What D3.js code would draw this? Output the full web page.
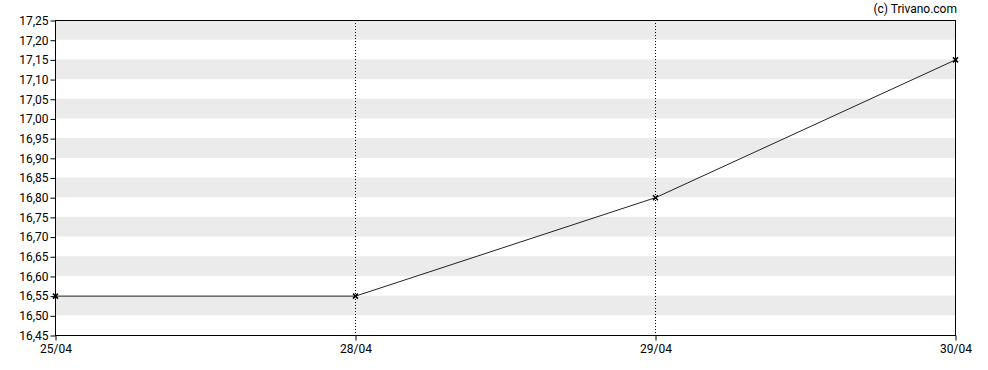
<!DOCTYPE html>
<html>
<head>
<meta charset="utf-8">
<script src="https://cdn.jsdelivr.net/npm/d3@7"></script>
<style>
  body { margin: 0; background: #fff; }
  text { font-family: Roboto, "Liberation Sans", sans-serif; font-size: 12px; fill: #000; }
</style>
</head>
<body>
<svg id="chart" width="988" height="370"></svg>
<script>
var dates = ["25/04", "28/04", "29/04", "30/04"];
var prices = [16.55, 16.55, 16.80, 17.15];
var yTicks = [16.45, 16.50, 16.55, 16.60, 16.65, 16.70, 16.75, 16.80, 16.85, 16.90,
              16.95, 17.00, 17.05, 17.10, 17.15, 17.20, 17.25];

var MARGINS = { top: 20, right: 33, bottom: 35, left: 55 };
var width = 988, height = 370;
var plotWidth = width - MARGINS.left - MARGINS.right;
var plotHeight = height - MARGINS.top - MARGINS.bottom;

var svg = d3.select('#chart');
var g = svg.append('g').attr('transform', 'translate(' + MARGINS.left + ',' + MARGINS.top + ')');

var x = d3.scalePoint().domain(dates).range([0, plotWidth]);
var y = d3.scaleLinear().domain([16.45, 17.25]).range([plotHeight, 0]);

var fmt = function (d) { return d.toFixed(2).replace('.', ','); };

// alternating bands
for (var i = 0; i < yTicks.length - 1; i++) {
  if ((yTicks.length - 2 - i) % 2 === 0) {
    g.append('rect')
      .attr('x', 0)
      .attr('y', y(yTicks[i + 1]))
      .attr('width', plotWidth)
      .attr('height', y(yTicks[i]) - y(yTicks[i + 1]))
      .attr('fill', '#ebebeb');
  }
}

// dotted verticals on inner dates
dates.slice(1, -1).forEach(function (d) {
  g.append('line')
    .attr('x1', Math.round(x(d)) + 0.5).attr('x2', Math.round(x(d)) + 0.5)
    .attr('y1', 0).attr('y2', plotHeight)
    .attr('stroke', '#000')
    .attr('stroke-width', 1)
    .attr('stroke-dasharray', '1,2');
});

// frame
g.append('rect')
  .attr('x', 0.5).attr('y', 0.5)
  .attr('width', plotWidth).attr('height', plotHeight)
  .attr('fill', 'none')
  .attr('stroke', '#000');

// y axis
var yAxis = g.append('g')
  .attr('transform', 'translate(0.5,0.5)')
  .call(d3.axisLeft(y).tickValues(yTicks).tickFormat(fmt).tickSize(5).tickPadding(2));
yAxis.select('.domain').remove();
yAxis.selectAll('text').style('font-size', '12px').attr('fill', '#000');

// x axis
var xAxis = g.append('g')
  .attr('transform', 'translate(0.5,' + (plotHeight + 0.5) + ')')
  .call(d3.axisBottom(x).tickSize(5).tickPadding(4));
xAxis.select('.domain').remove();
xAxis.selectAll('text').style('font-size', '12px').attr('fill', '#000');

// price line
var line = d3.line()
  .x(function (d, i) { return x(dates[i]) + 0.5; })
  .y(function (d) { return y(d) + 0.5; });

g.append('path')
  .datum(prices)
  .attr('d', line)
  .attr('fill', 'none')
  .attr('stroke', '#222')
  .attr('stroke-width', 1);

// x markers
prices.forEach(function (p, i) {
  var cx = x(dates[i]) + 0.5, cy = y(p) + 0.5, s = 2.5;
  g.append('path')
    .attr('d', 'M' + (cx - s) + ',' + (cy - s) + 'L' + (cx + s) + ',' + (cy + s) +
               'M' + (cx - s) + ',' + (cy + s) + 'L' + (cx + s) + ',' + (cy - s))
    .attr('stroke', '#000')
    .attr('stroke-width', 1.5);
});

// credit
svg.append('text')
  .attr('x', 957)
  .attr('y', 13)
  .attr('text-anchor', 'end')
  .style('font-size', '12px')
  .text('(c) Trivano.com');
</script>
</body>
</html>
